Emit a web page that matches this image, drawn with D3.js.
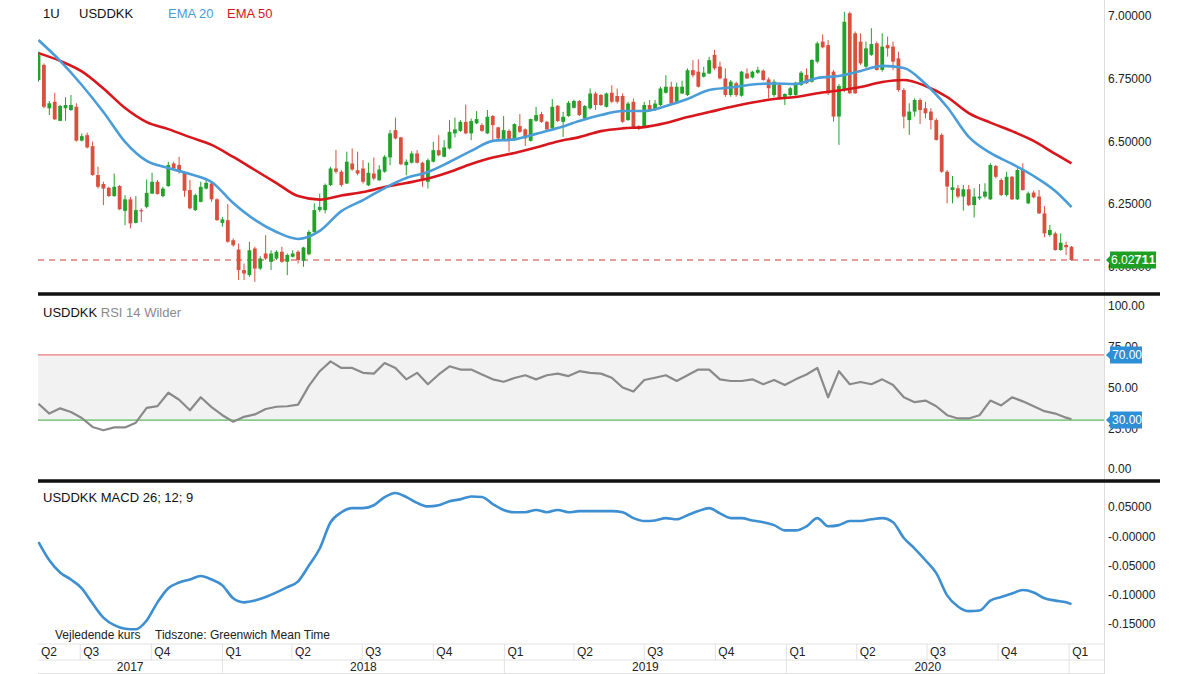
<!DOCTYPE html>
<html>
<head>
<meta charset="utf-8">
<script src="https://cdn.jsdelivr.net/npm/d3@7"></script>
<style>
  body { margin: 0; background: #fff; }
  svg { display: block; }
  text { font-family: Helvetica, Arial, "Liberation Sans", sans-serif; }
</style>
</head>
<body>
<div id="chart"></div>
<script>
// weekly USDDKK candles, first week starts 8 May 2017
const startWeek = new Date(Date.UTC(2017, 4, 8));
const opens = [6.745,6.805,6.632,6.658,6.582,6.632,6.625,6.638,6.503,6.525,6.481,6.366,6.330,6.315,6.282,6.322,6.223,6.269,6.175,6.226,
  6.239,6.292,6.339,6.282,6.322,6.412,6.406,6.375,6.306,6.226,6.259,6.312,6.332,6.269,6.175,6.186,6.106,6.069,5.987,5.967,
  6.073,5.993,6.053,6.020,6.033,6.060,6.020,6.040,6.060,6.024,6.050,6.139,6.226,6.226,6.326,6.392,6.379,6.332,6.412,6.385,
  6.392,6.325,6.372,6.345,6.379,6.436,6.545,6.516,6.405,6.415,6.452,6.415,6.339,6.419,6.465,6.439,6.472,6.532,6.542,6.578,
  6.532,6.572,6.565,6.532,6.601,6.556,6.505,6.542,6.505,6.561,6.548,6.502,6.582,6.609,6.578,6.552,6.642,6.578,6.601,6.634,
  6.661,6.591,6.632,6.691,6.685,6.638,6.694,6.681,6.681,6.585,6.658,6.561,6.558,6.645,6.625,6.645,6.694,6.718,6.658,6.691,
  6.685,6.784,6.778,6.758,6.771,6.845,6.798,6.751,6.685,6.732,6.682,6.771,6.755,6.774,6.782,6.747,6.685,6.725,6.672,6.685,
  6.685,6.725,6.765,6.738,6.818,6.898,6.884,6.778,6.599,6.705,7.011,6.931,6.898,6.798,6.845,6.891,6.785,6.884,6.878,6.831,
  6.705,6.585,6.619,6.665,6.632,6.619,6.585,6.526,6.379,6.306,6.313,6.280,6.309,6.246,6.273,6.280,6.269,6.402,6.346,6.286,
  6.359,6.269,6.386,6.253,6.296,6.280,6.213,6.127,6.133,6.067,6.087,6.080];
const highs = [6.858,6.811,6.661,6.694,6.645,6.676,6.685,6.652,6.532,6.535,6.499,6.399,6.339,6.319,6.372,6.326,6.286,6.279,6.282,6.233,
  6.348,6.375,6.346,6.319,6.419,6.419,6.439,6.379,6.346,6.292,6.339,6.346,6.339,6.273,6.199,6.250,6.113,6.093,6.013,6.100,
  6.080,6.042,6.126,6.066,6.066,6.080,6.053,6.066,6.066,6.080,6.146,6.253,6.292,6.332,6.399,6.466,6.386,6.459,6.472,6.459,
  6.425,6.415,6.436,6.405,6.445,6.545,6.595,6.518,6.428,6.461,6.465,6.419,6.432,6.498,6.525,6.505,6.585,6.595,6.585,6.647,
  6.591,6.621,6.572,6.625,6.605,6.558,6.601,6.548,6.572,6.609,6.552,6.591,6.638,6.618,6.582,6.669,6.645,6.618,6.661,6.667,
  6.665,6.645,6.711,6.698,6.689,6.695,6.724,6.711,6.691,6.658,6.671,6.565,6.658,6.665,6.665,6.718,6.764,6.738,6.734,6.742,
  6.791,6.824,6.827,6.798,6.837,6.865,6.818,6.791,6.745,6.738,6.781,6.791,6.782,6.798,6.787,6.755,6.747,6.732,6.692,6.718,
  6.738,6.781,6.791,6.827,6.898,6.927,6.904,6.785,6.729,7.017,7.017,6.938,6.931,6.898,6.951,6.898,6.931,6.918,6.898,6.858,
  6.712,6.652,6.672,6.672,6.658,6.632,6.592,6.532,6.386,6.362,6.326,6.326,6.326,6.313,6.330,6.333,6.413,6.406,6.353,6.379,
  6.362,6.393,6.413,6.300,6.304,6.306,6.242,6.167,6.140,6.133,6.100,6.083];
const lows = [6.738,6.632,6.605,6.585,6.580,6.582,6.622,6.499,6.500,6.472,6.363,6.312,6.246,6.279,6.279,6.226,6.166,6.153,6.173,6.179,
  6.233,6.290,6.288,6.277,6.319,6.388,6.372,6.279,6.229,6.223,6.257,6.308,6.259,6.183,6.160,6.096,6.080,5.947,5.947,5.960,
  5.940,5.987,6.027,5.987,6.027,6.016,5.967,6.037,6.013,6.000,6.046,6.135,6.219,6.213,6.322,6.372,6.319,6.330,6.383,6.365,
  6.332,6.322,6.345,6.343,6.375,6.405,6.508,6.405,6.365,6.412,6.412,6.319,6.312,6.416,6.441,6.436,6.468,6.516,6.538,6.529,
  6.505,6.569,6.538,6.529,6.505,6.508,6.502,6.459,6.502,6.534,6.482,6.500,6.578,6.574,6.542,6.548,6.577,6.518,6.598,6.631,
  6.601,6.587,6.627,6.625,6.641,6.635,6.654,6.651,6.574,6.582,6.552,6.545,6.556,6.618,6.621,6.641,6.691,6.645,6.654,6.689,
  6.681,6.755,6.715,6.755,6.768,6.785,6.747,6.678,6.678,6.678,6.678,6.749,6.751,6.769,6.742,6.672,6.678,6.668,6.645,6.678,
  6.682,6.721,6.729,6.734,6.811,6.871,6.685,6.579,6.486,6.698,6.689,6.689,6.805,6.791,6.841,6.782,6.778,6.838,6.785,6.698,
  6.552,6.526,6.599,6.569,6.592,6.548,6.503,6.375,6.253,6.253,6.273,6.224,6.242,6.197,6.266,6.273,6.266,6.353,6.282,6.280,
  6.266,6.266,6.304,6.250,6.273,6.211,6.118,6.120,6.064,6.064,6.047,6.024];
const closes = [6.844,6.638,6.652,6.588,6.641,6.645,6.645,6.503,6.521,6.476,6.366,6.319,6.312,6.282,6.319,6.229,6.269,6.173,6.226,6.221,
  6.295,6.339,6.290,6.312,6.406,6.392,6.379,6.303,6.233,6.286,6.319,6.335,6.269,6.186,6.189,6.100,6.086,5.987,5.973,6.066,
  5.993,6.033,6.033,6.053,6.060,6.020,6.047,6.053,6.027,6.077,6.139,6.226,6.239,6.326,6.392,6.379,6.326,6.419,6.388,6.372,
  6.339,6.375,6.352,6.388,6.439,6.532,6.512,6.409,6.419,6.452,6.415,6.345,6.425,6.465,6.445,6.476,6.538,6.548,6.578,6.532,
  6.581,6.589,6.542,6.598,6.565,6.512,6.545,6.505,6.569,6.538,6.512,6.589,6.605,6.578,6.548,6.638,6.581,6.598,6.654,6.661,
  6.605,6.641,6.691,6.645,6.645,6.691,6.658,6.658,6.578,6.651,6.556,6.552,6.645,6.621,6.651,6.711,6.718,6.651,6.718,6.718,
  6.784,6.764,6.718,6.774,6.824,6.791,6.751,6.685,6.738,6.685,6.778,6.751,6.778,6.785,6.745,6.712,6.738,6.672,6.689,6.712,
  6.734,6.774,6.732,6.825,6.891,6.875,6.692,6.599,6.721,6.977,6.692,6.692,6.811,6.871,6.888,6.785,6.878,6.871,6.818,6.705,
  6.599,6.619,6.665,6.625,6.612,6.585,6.506,6.379,6.320,6.317,6.280,6.309,6.246,6.280,6.280,6.300,6.406,6.359,6.286,6.359,
  6.269,6.386,6.306,6.293,6.277,6.213,6.133,6.147,6.067,6.096,6.078,6.02711];
const lastPrice = 6.02711;

// moving averages, read every 4 weeks (last point = last week)
const emaStep = 4;
const ema20 = [6.904,6.821,6.725,6.617,6.498,6.422,6.394,6.370,6.338,6.254,6.187,6.139,6.111,6.143,6.222,6.266,6.314,6.354,6.378,6.418,
  6.462,6.502,6.508,6.530,6.553,6.581,6.605,6.621,6.621,6.641,6.669,6.705,6.715,6.727,6.731,6.729,6.753,6.761,6.781,6.801,
  6.793,6.729,6.637,6.518,6.454,6.410,6.362,6.302,6.238];
const ema50 = [6.852,6.821,6.779,6.711,6.633,6.577,6.549,6.517,6.486,6.438,6.386,6.334,6.282,6.268,6.284,6.298,6.318,6.334,6.352,6.378,
  6.410,6.436,6.454,6.476,6.500,6.517,6.541,6.552,6.557,6.573,6.597,6.617,6.637,6.655,6.669,6.677,6.692,6.703,6.717,6.737,
  6.745,6.721,6.677,6.613,6.575,6.541,6.502,6.450,6.412];

// indicators, read every 2 weeks (last point = last week)
const indStep = 2;
const rsi = [40,34,37.2,35,31.3,25.8,23.8,25.5,25.5,28.4,37.5,38.6,46.8,42.5,36,44,38,33,29,32,
  33.5,36.8,38.2,38.5,39.5,51,60,66,62,62,59,58.5,65,62,55,59,52,58,63,61,
  61,58,55,53.5,55.8,57.5,55,57.5,58.5,57,60,59,58.5,56,50,47.5,54.6,56,57.5,54,
  57.5,61,61,55,54,54,55,52,54.6,51.5,55,58,62,44,60,52,53.4,52,55,51.5,
  44,41,42,38.5,33,31,31,33,42,39,44,41.5,38.5,35.5,34,31.5,30.5];
const macd = [-0.010,-0.041,-0.062,-0.074,-0.089,-0.115,-0.139,-0.152,-0.158,-0.159,-0.144,-0.113,-0.089,-0.079,-0.074,-0.068,-0.074,-0.084,-0.106,-0.113,
  -0.110,-0.104,-0.096,-0.087,-0.077,-0.050,-0.021,0.024,0.041,0.048,0.048,0.053,0.067,0.074,0.067,0.057,0.051,0.053,0.060,0.063,
  0.068,0.067,0.055,0.045,0.041,0.041,0.045,0.041,0.045,0.041,0.043,0.043,0.043,0.043,0.041,0.031,0.026,0.027,0.031,0.029,
  0.036,0.043,0.048,0.039,0.031,0.031,0.027,0.024,0.019,0.010,0.010,0.017,0.031,0.017,0.019,0.026,0.026,0.029,0.031,0.024,
  -0.003,-0.021,-0.041,-0.063,-0.101,-0.120,-0.128,-0.127,-0.110,-0.104,-0.098,-0.092,-0.096,-0.106,-0.110,-0.113,-0.116];

const priceTicks = [6.0, 6.25, 6.5, 6.75, 7.0];
const rsiTicks = [0, 25, 50, 75, 100];
const rsiLevels = [30, 70];
const macdTicks = [-0.15, -0.10, -0.05, 0, 0.05];

const W = 1200, H = 674;
const left = 38, right = 1104;

const svg = d3.select("#chart").append("svg")
  .attr("width", W)
  .attr("height", H);

const fmt = d3.formatLocale({decimal: ".", thousands: ",", grouping: [3], currency: ["", ""], minus: "-"});
const f5 = fmt.format(".5f");
const f2 = fmt.format(".2f");

const candles = closes.map((c, i) => ({
  date: d3.utcDay.offset(startWeek, 7 * i),
  o: opens[i], h: highs[i], l: lows[i], c: c
}));
const lastIdx = candles.length - 1;

const x = d3.scaleUtc()
  .domain([candles[0].date, candles[lastIdx].date])
  .range([38.5, 1071.5]);

const sampled = (vals, step) => vals.map((v, i) => ({date: candles[Math.min(i * step, lastIdx)].date, v: v}));

// ---------- price panel ----------
const yP = d3.scaleLinear().domain([6.0, 7.0]).range([266.8, 16]);

svg.append("defs").append("clipPath").attr("id", "clipP")
  .append("rect").attr("x", left).attr("y", 0).attr("width", right - left).attr("height", 292);
svg.select("defs").append("clipPath").attr("id", "clipAx")
  .append("rect").attr("x", left).attr("y", 640).attr("width", right - left).attr("height", 34);

const gP = svg.append("g").attr("clip-path", "url(#clipP)");

// last price dashed line
gP.append("line")
  .attr("x1", left).attr("x2", right)
  .attr("y1", yP(lastPrice)).attr("y2", yP(lastPrice))
  .attr("stroke", "#cf3a30").attr("stroke-width", 1)
  .attr("stroke-dasharray", "6,5");

const up = "#22a22a", down = "#d9503f";
const cg = gP.selectAll("g.candle").data(candles).enter().append("g").attr("class", "candle");
cg.append("line")
  .attr("x1", d => x(d.date)).attr("x2", d => x(d.date))
  .attr("y1", d => yP(d.h)).attr("y2", d => yP(d.l))
  .attr("stroke", d => d.c >= d.o ? up : down).attr("stroke-width", 1);
cg.append("rect")
  .attr("x", d => x(d.date) - 1.9)
  .attr("width", 3.8)
  .attr("y", d => yP(Math.max(d.o, d.c)))
  .attr("height", d => Math.max(1, Math.abs(yP(d.o) - yP(d.c))))
  .attr("fill", d => d.c >= d.o ? up : down);

const lineP = d3.line().x(d => x(d.date)).y(d => yP(d.v)).curve(d3.curveMonotoneX);
gP.append("path").datum(sampled(ema50, emaStep))
  .attr("d", lineP).attr("fill", "none").attr("stroke", "#d8161c").attr("stroke-width", 2.6);
gP.append("path").datum(sampled(ema20, emaStep))
  .attr("d", lineP).attr("fill", "none").attr("stroke", "#4a9dd8").attr("stroke-width", 2.6);

// legend
const legend = svg.append("text").attr("x", 43).attr("y", 18).style("font-size", "13px");
legend.append("tspan").attr("fill", "#111").text("1U");
legend.append("tspan").attr("x", 79).attr("fill", "#111").text("USDDKK");
legend.append("tspan").attr("x", 168).attr("fill", "#4a9dd8").text("EMA 20");
legend.append("tspan").attr("x", 227).attr("fill", "#d8161c").text("EMA 50");

// ---------- RSI panel ----------
const yR = d3.scaleLinear().domain([0, 100]).range([469, 306]);
svg.append("rect")
  .attr("x", left).attr("width", right - left)
  .attr("y", yR(70)).attr("height", yR(30) - yR(70))
  .attr("fill", "#f2f2f2");
svg.append("line").attr("x1", left).attr("x2", right)
  .attr("y1", yR(70)).attr("y2", yR(70)).attr("stroke", "#e05a5a").attr("stroke-width", 1);
svg.append("line").attr("x1", left).attr("x2", right)
  .attr("y1", yR(30)).attr("y2", yR(30)).attr("stroke", "#5cb85c").attr("stroke-width", 1.2);
svg.append("path").datum(sampled(rsi, indStep))
  .attr("d", d3.line().x(d => x(d.date)).y(d => yR(d.v)))
  .attr("fill", "none").attr("stroke", "#8a8a8a").attr("stroke-width", 2.2)
  .attr("stroke-linejoin", "round");

const rsiTitle = svg.append("text").attr("x", 43).attr("y", 317).style("font-size", "13px");
rsiTitle.append("tspan").attr("fill", "#111").text("USDDKK ");
rsiTitle.append("tspan").attr("fill", "#8a8a8a").text("RSI 14 Wilder");

// ---------- MACD panel ----------
const yM = d3.scaleLinear().domain([-0.15, 0.05]).range([624, 507]);
svg.append("path").datum(sampled(macd, indStep))
  .attr("d", d3.line().x(d => x(d.date)).y(d => yM(d.v)).curve(d3.curveMonotoneX))
  .attr("fill", "none").attr("stroke", "#3d8fd1").attr("stroke-width", 2.6);
svg.append("text").attr("x", 43).attr("y", 502).style("font-size", "13px").attr("fill", "#111")
  .text("USDDKK  MACD 26; 12; 9");

// ---------- right axes ----------
svg.append("line").attr("x1", right + 0.5).attr("x2", right + 0.5).attr("y1", 0).attr("y2", H)
  .attr("stroke", "#dddddd");

function rightAxis(scale, ticks, format) {
  const g = svg.append("g").attr("transform", `translate(${right},0)`)
    .call(d3.axisRight(scale).tickValues(ticks).tickSize(0).tickPadding(4).tickFormat(format));
  g.select(".domain").remove();
  g.selectAll("text").style("font-size", "12px").attr("fill", "#222")
    .style("font-family", "Helvetica, Arial, 'Liberation Sans', sans-serif");
  return g;
}
rightAxis(yP, priceTicks, f5);
rightAxis(yR, rsiTicks, f2);
rightAxis(yM, macdTicks, d => d === 0 ? "-0.00000" : f5(d));

// value tags
function tag(yv, w, fill) {
  const g = svg.append("g").attr("transform", `translate(${right + 2},${yv})`);
  g.append("path").attr("d", `M0,0 L4,-4 L4,-8.5 L${w},-8.5 L${w},8.5 L4,8.5 L4,4 Z`).attr("fill", fill);
  return g;
}
const pt = tag(yP(lastPrice), 50, "#1f9e24");
const ptText = pt.append("text").attr("x", 5).attr("y", 0).attr("dy", "0.36em")
  .attr("fill", "#fff").style("font-size", "12px");
ptText.append("tspan").text("6.02");
ptText.append("tspan").style("font-weight", "bold").style("font-size", "13px").text("71");
ptText.append("tspan").style("font-weight", "bold").text("1");

rsiLevels.forEach(v => {
  const t = tag(yR(v), 36, "#2e8fd6");
  t.append("text").attr("x", 6).attr("y", 0).attr("dy", "0.36em")
    .attr("fill", "#fff").style("font-size", "12px").text(f2(v));
});

// separators
[294, 481].forEach(yy => {
  svg.append("line").attr("x1", left).attr("x2", 1160).attr("y1", yy).attr("y2", yy)
    .attr("stroke", "#111").attr("stroke-width", 3.5);
});

// ---------- time axis ----------
svg.append("text").attr("x", 55).attr("y", 639).style("font-size", "12px").attr("fill", "#222")
  .text("Vejledende kurs");
svg.append("text").attr("x", 155).attr("y", 639).style("font-size", "12px").attr("fill", "#222")
  .text("Tidszone: Greenwich Mean Time");

const gA = svg.append("g").attr("clip-path", "url(#clipAx)");
[644, 660, 673.5].forEach(yy => {
  gA.append("line").attr("x1", left).attr("x2", right).attr("y1", yy).attr("y2", yy)
    .attr("stroke", "#e2e2e2");
});
const axisStart = x.invert(left), axisEnd = x.invert(right);
const quarters = d3.utcMonth.every(3).range(d3.utcMonth.every(3).floor(axisStart), axisEnd);
quarters.forEach(q => {
  const qx = Math.max(left, x(q));
  if (x(q) > left) {
    gA.append("line").attr("x1", qx).attr("x2", qx).attr("y1", 644).attr("y2", 660).attr("stroke", "#e2e2e2");
  }
  gA.append("text").attr("x", qx + 3).attr("y", 656).style("font-size", "12px").attr("fill", "#222")
    .text("Q" + (Math.floor(q.getUTCMonth() / 3) + 1));
});
const years = d3.utcYear.range(d3.utcYear.floor(axisStart), axisEnd);
years.forEach(yv => {
  const x0 = Math.max(left, x(yv));
  const x1 = Math.min(right, x(d3.utcYear.offset(yv, 1)));
  if (x(yv) > left) {
    gA.append("line").attr("x1", x0).attr("x2", x0).attr("y1", 660).attr("y2", 674).attr("stroke", "#e2e2e2");
  }
  if (x1 - x0 > 60) {
    gA.append("text").attr("x", (x0 + x1) / 2).attr("y", 671).attr("text-anchor", "middle")
      .style("font-size", "12px").attr("fill", "#222").text(yv.getUTCFullYear());
  }
});
</script>
</body>
</html>
